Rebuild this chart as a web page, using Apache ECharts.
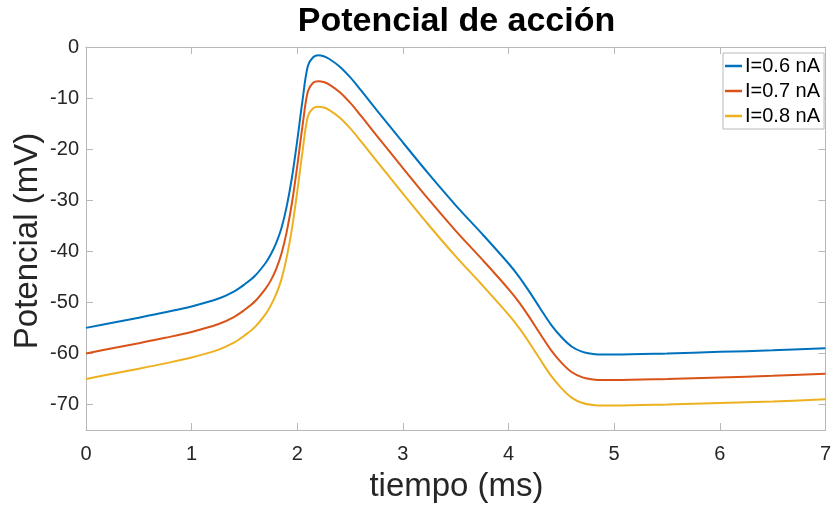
<!DOCTYPE html>
<html>
<head>
<meta charset="utf-8">
<script src="https://cdn.jsdelivr.net/npm/echarts@6/dist/echarts.min.js"></script>
<style>
  html, body { margin: 0; padding: 0; background: #fff; }
  #chart { width: 834px; height: 505px; }
</style>
</head>
<body>
<div id="chart"></div>
<script>
// Time samples (ms)
const tiempo = [0, 0.25, 0.5, 0.75, 1.0, 1.25, 1.4, 1.5, 1.6, 1.7, 1.75, 1.8, 1.85, 1.9, 1.95,
  2.0, 2.05, 2.1, 2.15, 2.2, 2.25, 2.3, 2.4, 2.5, 2.6, 2.75, 3.0, 3.25, 3.5, 3.75, 4.0, 4.1,
  4.2, 4.3, 4.4, 4.5, 4.6, 4.7, 4.8, 4.9, 5.0, 5.5, 6.0, 6.5, 7.0];

// Membrane potential (mV) for each stimulus current
const v06 = [-55.0, -54.0, -53.0, -51.95, -50.8, -49.3, -47.9, -46.5, -44.8, -42.3, -40.6, -38.4, -35.5, -31.2, -25.5,
  -18.3, -10.4, -3.7, -2.0, -1.6, -1.8, -2.3, -3.8, -5.9, -8.4, -12.3, -18.7, -25.0, -31.0, -36.6, -42.4, -45.0,
  -48.0, -51.2, -54.3, -56.8, -58.7, -59.7, -60.1, -60.2, -60.2, -60.0, -59.7, -59.4, -59.0];
const v07 = [-60.0, -59.0, -58.0, -56.95, -55.8, -54.3, -52.9, -51.5, -49.8, -47.3, -45.7, -43.5, -40.5, -36.2, -30.5,
  -23.3, -15.4, -8.7, -7.0, -6.7, -6.85, -7.3, -8.8, -10.9, -13.4, -17.3, -23.7, -30.0, -36.0, -41.6, -47.4, -50.0,
  -53.0, -56.2, -59.3, -61.8, -63.7, -64.7, -65.1, -65.2, -65.2, -65.0, -64.7, -64.4, -64.0];
const v08 = [-65.0, -64.0, -63.0, -61.95, -60.8, -59.3, -57.9, -56.5, -54.8, -52.3, -50.6, -48.4, -45.5, -41.2, -35.5,
  -28.3, -20.4, -13.6, -12.0, -11.7, -11.85, -12.3, -13.8, -15.9, -18.4, -22.3, -28.7, -35.0, -41.0, -46.6, -52.4, -55.0,
  -58.0, -61.2, -64.3, -66.8, -68.7, -69.7, -70.1, -70.2, -70.2, -70.0, -69.7, -69.4, -69.0];

const seriesNames = ['I=0.6 nA', 'I=0.7 nA', 'I=0.8 nA'];
const seriesColors = ['#0072BD', '#D95319', '#EDB120'];

// Tick positions
const xTicks = [0, 1, 2, 3, 4, 5, 6, 7];
const yTicks = [0, -10, -20, -30, -40, -50, -60, -70];

const FONT = '"Liberation Sans", Arial, Helvetica, sans-serif';
const AXIS_GREY = '#b8b8b8';
const TEXT = '#262626';

const grid = { left: 86, right: 7, top: 47, bottom: 75 };
const plotCx = grid.left + (834 - grid.left - grid.right) / 2;

function pairs(vals) { return tiempo.map((t, i) => [t, vals[i]]); }

const baseX = {
  type: 'value', min: 0, max: 7, interval: 1,
  axisLine: { show: true, onZero: false, lineStyle: { color: AXIS_GREY, width: 1 } },
  axisTick: { show: true, inside: true, length: 7, lineStyle: { color: AXIS_GREY } },
  splitLine: { show: false }
};
const baseY = {
  type: 'value', min: -75, max: 0,
  axisLine: { show: true, onZero: false, lineStyle: { color: AXIS_GREY, width: 1 } },
  axisTick: { show: true, inside: true, length: 7, customValues: yTicks, lineStyle: { color: AXIS_GREY } },
  splitLine: { show: false }
};

const chart = echarts.init(document.getElementById('chart'), null, { renderer: 'canvas' });
chart.setOption({
  animation: false,
  backgroundColor: '#ffffff',
  grid: grid,
  xAxis: [
    Object.assign({}, baseX, {
      position: 'bottom',
      axisLabel: { show: true, customValues: xTicks, color: TEXT, fontSize: 20, fontFamily: FONT, margin: 14 }
    }),
    Object.assign({}, baseX, { position: 'top', axisLabel: { show: false } })
  ],
  yAxis: [
    Object.assign({}, baseY, {
      position: 'left',
      axisLabel: { show: true, customValues: yTicks, color: TEXT, fontSize: 20, fontFamily: FONT, margin: 7 }
    }),
    Object.assign({}, baseY, { position: 'right', axisLabel: { show: false } })
  ],
  legend: {
    orient: 'vertical',
    left: 723, top: 53,
    padding: [3, 4, 3, 2],
    itemGap: 5,
    itemWidth: 17, itemHeight: 2.5,
    icon: 'rect',
    backgroundColor: '#ffffff',
    borderColor: AXIS_GREY, borderWidth: 1,
    textStyle: { color: '#000', fontSize: 20, fontFamily: FONT, padding: [0, 0, 0, -2] },
    data: seriesNames
  },
  graphic: [
    { type: 'text', x: plotCx, y: 22,
      style: { text: 'Potencial de acción', font: 'bold 34px ' + FONT, fill: '#000', textAlign: 'center', textVerticalAlign: 'middle' } },
    { type: 'text', x: plotCx, y: 487,
      style: { text: 'tiempo (ms)', font: '33px ' + FONT, fill: TEXT, textAlign: 'center', textVerticalAlign: 'middle' } },
    { type: 'text', x: 28, y: 241, rotation: Math.PI / 2,
      style: { text: 'Potencial (mV)', font: '33px ' + FONT, fill: TEXT, textAlign: 'center', textVerticalAlign: 'middle' } }
  ],
  series: [v06, v07, v08].map((vals, i) => ({
    name: seriesNames[i],
    type: 'line',
    data: pairs(vals),
    showSymbol: false,
    symbol: 'none',
    smooth: 0.35,
    lineStyle: { color: seriesColors[i], width: 2 },
    itemStyle: { color: seriesColors[i] },
    z: 3 - i
  }))
});
</script>
</body>
</html>
